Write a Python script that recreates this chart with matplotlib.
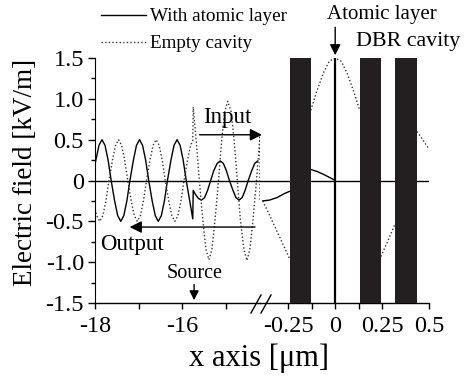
import matplotlib
matplotlib.use("Agg")
import matplotlib.pyplot as plt
from matplotlib.lines import Line2D

plt.rcParams['font.family'] = ['Liberation Serif', 'DejaVu Serif']
plt.rcParams['axes.unicode_minus'] = False

nan = float('nan')

# ---- data ----
# far field region (left part of the broken axis), x in um
solid_left_x = [-18.00, -17.96, -17.91, -17.84, -17.77, -17.70, -17.63, -17.55, -17.48, -17.41,
                -17.34, -17.27, -17.20, -17.12, -17.05, -16.98, -16.91, -16.84, -16.77, -16.69,
                -16.62, -16.55, -16.48, -16.41, -16.34, -16.26, -16.19, -16.12, -16.05, -15.98,
                -15.91, -15.83, -15.76, -15.75, -15.70, -15.63, -15.56, -15.49, -15.42, -15.35,
                -15.28, -15.20, -15.13, -15.06, -14.99, -14.92, -14.84, -14.77, -14.70, -14.63,
                -14.56, -14.49, -14.41, -14.34, -14.27]
solid_left_y = [0.20, 0.30, 0.43, 0.50, 0.43, 0.25, 0.00, -0.25, -0.43, -0.50,
                -0.43, -0.25, 0.00, 0.25, 0.43, 0.50, 0.43, 0.25, 0.00, -0.25,
                -0.43, -0.50, -0.43, -0.25, 0.00, 0.25, 0.43, 0.50, 0.43, 0.25,
                0.00, -0.25, -0.47, -0.12, -0.17, -0.22, -0.24, -0.21, -0.12, 0.00,
                0.12, 0.21, 0.24, 0.21, 0.12, 0.00, -0.12, -0.21, -0.24, -0.21,
                -0.12, 0.00, 0.12, 0.21, 0.24]

dot_left_x = [-18.00, -17.96, -17.89, -17.82, -17.75, -17.68, -17.60, -17.53, -17.46, -17.39,
              -17.32, -17.25, -17.17, -17.10, -17.03, -16.96, -16.89, -16.82, -16.74, -16.67,
              -16.60, -16.53, -16.46, -16.39, -16.31, -16.24, -16.17, -16.10, -16.03, -15.96,
              -15.88, -15.81, -15.76, -15.75, -15.68, -15.61, -15.53, -15.46, -15.39, -15.32,
              -15.25, -15.17, -15.10, -15.03, -14.96, -14.88, -14.81, -14.74, -14.67, -14.59,
              -14.52, -14.45, -14.38, -14.30, -14.22, -14.22]
dot_left_y = [-0.35, -0.43, -0.50, -0.43, -0.25, 0.00, 0.25, 0.43, 0.50, 0.43,
              0.25, 0.00, -0.25, -0.43, -0.50, -0.43, -0.25, 0.00, 0.25, 0.43,
              0.50, 0.43, 0.25, 0.00, -0.25, -0.43, -0.50, -0.43, -0.25, 0.00,
              0.25, 0.43, 0.49, 0.90, 0.48, 0.00, -0.48, -0.84, -0.97, -0.84,
              -0.48, 0.00, 0.48, 0.84, 0.97, 0.84, 0.48, 0.00, -0.48, -0.84,
              -0.98, -0.84, -0.48, 0.00, 0.55, -0.25]

# DBR cavity region (right part of the broken axis)
solid_right_x = [-0.385, -0.35, -0.31, -0.27, -0.24, nan,
                 -0.129, -0.096, -0.064, -0.032, 0.0]
solid_right_y = [-0.25, -0.24, -0.21, -0.16, -0.13, nan,
                 0.134, 0.11, 0.077, 0.04, 0.0]

dot_right_x = [-0.385, -0.35, -0.31, -0.27, -0.24, nan,
               -0.13, -0.10, -0.064, -0.032, 0.0, 0.032, 0.064, 0.10, 0.13, nan,
               0.243, 0.28, 0.317, nan,
               0.435, 0.465, 0.495]
dot_right_y = [-0.25, -0.42, -0.62, -0.82, -0.97, nan,
               0.86, 1.08, 1.31, 1.46, 1.50, 1.46, 1.31, 1.08, 0.86, nan,
               -0.93, -0.74, -0.54, nan,
               0.60, 0.50, 0.40]

# DBR layers (start, end) in um
bar_start = [-0.24, 0.131, 0.317]
bar_end = [-0.129, 0.243, 0.435]

ytick_vals = [-1.5, -1.0, -0.5, 0, 0.5, 1.0, 1.5]
ytick_labels = ['-1.5', '-1.0', '-0.5', '0', '0.5', '1.0', '1.5']
left_ticks = [-18, -16]
left_labels = ['-18', '-16']
right_ticks = [-0.25, 0, 0.25, 0.5]
right_labels = ['-0.25', '0', '0.25', '0.5']

W, H = 468, 383
fig = plt.figure(figsize=(W / 100, H / 100), dpi=100)

y0 = (H - 303) / H
hgt = (303 - 58) / H
axl = fig.add_axes([95 / W, y0, 165 / W, hgt])
axr = fig.add_axes([260 / W, y0, 169.2 / W, hgt])

solid_style = dict(color='black', lw=1.0)
dot_style = dict(color='#333333', lw=1.0, ls=(0, (1, 1.6)))

for ax in (axl, axr):
    ax.set_ylim(-1.5, 1.5)
    ax.axhline(0, color='black', lw=1.0, zorder=1)
    ax.spines['top'].set_visible(False)
    ax.spines['right'].set_visible(False)
    ax.spines['bottom'].set_linewidth(1.0)
    ax.tick_params(axis='x', which='both', direction='out', length=4, width=1,
                   labelsize=17.5, pad=5)
    ax.patch.set_alpha(0)

axl.plot(solid_left_x, solid_left_y, **solid_style, label='With atomic layer')
axl.plot(dot_left_x, dot_left_y, **dot_style, label='Empty cavity')
axl.set_xlim(-18, -14.22)
axl.set_xticks(left_ticks)
axl.set_xticklabels(left_labels)
axl.set_xticks([-17, -15], minor=True)
axl.set_yticks(ytick_vals)
axl.set_yticklabels(ytick_labels)
axl.set_yticks([-1.25, -0.75, -0.25, 0.25, 0.75, 1.25], minor=True)
axl.tick_params(axis='y', which='major', direction='out', length=5, width=1,
                labelsize=17.5, pad=3)
axl.tick_params(axis='y', which='minor', direction='out', length=3, width=1)

axr.plot(solid_right_x, solid_right_y, **solid_style)
axr.plot(dot_right_x, dot_right_y, **dot_style)
for s, e in zip(bar_start, bar_end):
    axr.axvspan(s, e, color='#231f20', lw=0, zorder=3)
axr.axvline(0, color='black', lw=1.6, zorder=4)
axr.set_xlim(-0.40, 0.50)
axr.set_xticks(right_ticks)
axr.set_xticklabels(right_labels)
axr.set_xticks([-0.125, 0.125], minor=True)
axr.spines['left'].set_visible(False)
axr.set_yticks([])

# labels
fig.text(26 / W, 1 - 172 / H, 'Electric field [kV/m]', rotation=90,
         ha='center', va='center', fontsize=19.5)
fig.text(259 / W, 1 - 358 / H, 'x axis [\u03bcm]', ha='center', va='center', fontsize=22)

# annotations with arrows
arrow = dict(arrowstyle='-|>', color='black', lw=1.0, mutation_scale=18)
axl.annotate('', xy=(-14.11, 0.56), xytext=(-15.67, 0.56),
             arrowprops=arrow, annotation_clip=False)
axl.text(-14.96, 0.77, 'Input', ha='center', va='center', fontsize=16.5)
axl.annotate('', xy=(-17.27, -0.57), xytext=(-14.27, -0.57),
             arrowprops=arrow, annotation_clip=False)
axl.text(-17.15, -0.78, 'Output', ha='center', va='center', fontsize=16.5)
axl.annotate('', xy=(-15.73, -1.5), xytext=(-15.73, -1.24),
             arrowprops=dict(arrowstyle='-|>', color='black', lw=1.0, mutation_scale=14),
             annotation_clip=False)
axl.text(-15.72, -1.14, 'Source', ha='center', va='center', fontsize=14.5)
axr.annotate('', xy=(0, 1.5), xytext=(0, 1.91),
             arrowprops=dict(arrowstyle='-|>', color='black', lw=1.0, mutation_scale=16),
             annotation_clip=False)
axr.text(0.25, 2.03, 'Atomic layer', ha='center', va='center', fontsize=15)
axr.text(0.387, 1.70, 'DBR cavity', ha='center', va='center', fontsize=15.8)

# legend at top left
fig.legend(handles=axl.get_lines()[1:3], loc='upper left',
           bbox_to_anchor=(101 / W, 1 - 8 / H), frameon=False, fontsize=13.8,
           handlelength=2.35, handletextpad=0.2, labelspacing=0.5, borderpad=0.0,
           borderaxespad=0.0)

# axis break marks
for cx in (256, 266):
    fig.add_artist(Line2D([(cx - 5) / W, (cx + 5) / W], [1 - 313 / H, 1 - 295 / H],
                          color='black', lw=1.0, transform=fig.transFigure))

fig.savefig('out.png', dpi=100)
